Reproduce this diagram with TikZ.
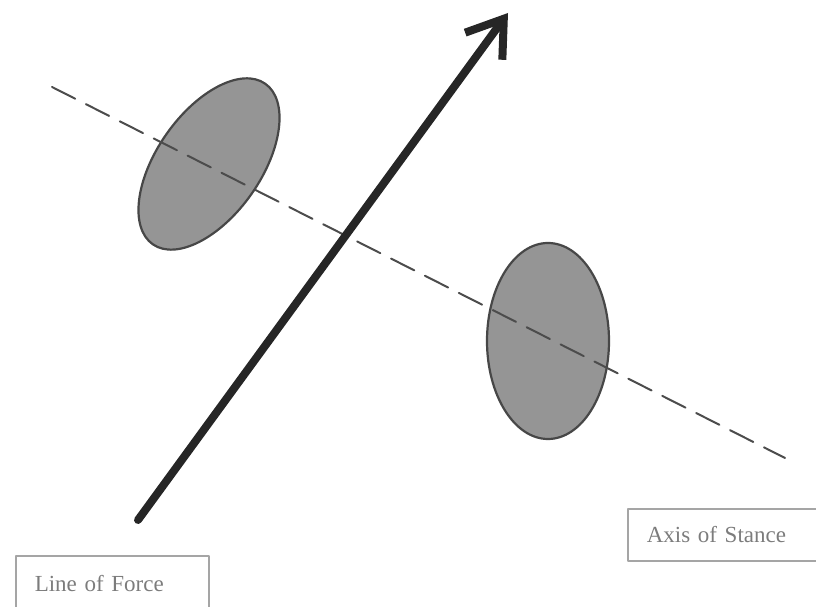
\documentclass[tikz,border=0pt]{standalone}
\usepackage{fontspec}
\setmainfont{Liberation Serif}
\usetikzlibrary{arrows.meta}
\definecolor{footfill}{HTML}{959595}
\definecolor{footline}{HTML}{474747}
\definecolor{labelgray}{HTML}{7C7C7C}
\definecolor{boxgray}{HTML}{A5A5A5}
\begin{document}
\begin{tikzpicture}[x=1pt,y=1pt,>={Straight Barb[length=34pt,width=46pt]}, line join=round, line cap=round, font=\fontsize{23}{26}\selectfont]
	\def\xmax{816} \def\ymax{607}
	\useasboundingbox (0,0) rectangle (\xmax,\ymax);
	\clip (0,0) rectangle (\xmax,\ymax);
	\tikzset{foot/.style={fill=footfill,draw=footline,line width=2.2pt},
		tag/.style={draw=boxgray,line width=1.6pt,text=labelgray,anchor=north west,align=left,inner xsep=19pt}}
	\coordinate (s1) at (209,443);
	\coordinate (s2) at (548,266);
	\coordinate (a1) at (52,520);
	\coordinate (a2) at (785,149);
	\coordinate (f1) at (138,87);
	\coordinate (f2) at (508,594);
	\draw[foot,rotate around={-35:(s1)}] (s1) ellipse [x radius=52,y radius=98];
	\draw[foot] (s2) ellipse [x radius=61,y radius=98];
	\draw[black!70,line width=2pt,dash pattern=on 26pt off 12pt] (a1)--(a2);
	\draw[->,black!85,line width=8pt] (f1)--(f2);
	\node[tag,minimum width=193pt,minimum height=56pt,text width=155pt] (lf) at (15,52) {Line of Force};
	\node[tag,minimum width=200pt,minimum height=52pt,text width=162pt] (as) at (627,99) {Axis of Stance};
\end{tikzpicture}
\end{document}
